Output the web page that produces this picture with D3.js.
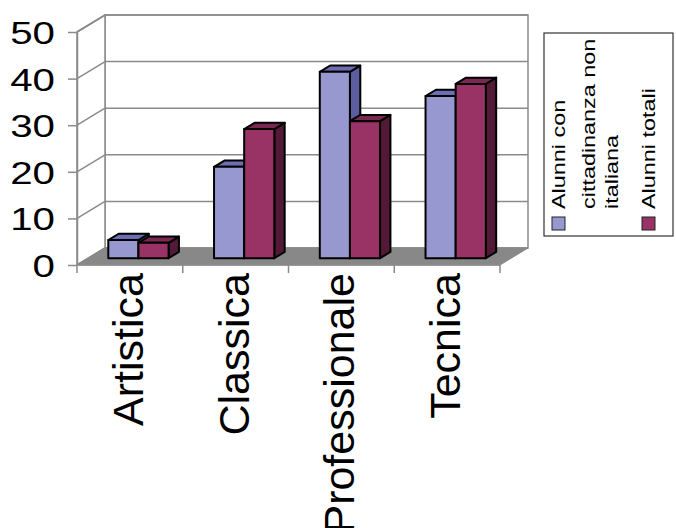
<!DOCTYPE html>
<html>
<head>
<meta charset="utf-8">
<script src="https://cdn.jsdelivr.net/npm/d3@7"></script>
<style>
  html, body { margin: 0; padding: 0; background: #fff; }
  svg { display: block; font-family: "Liberation Sans", Arial, sans-serif; }
</style>
</head>
<body>
<svg id="chart" width="676" height="528"></svg>
<script>
// Indirizzi di studio
const categories = ["Artistica", "Classica", "Professionale", "Tecnica"];
// Percentuali per serie
const alunniStranieri = [3.9, 19.6, 40.0, 34.8];
const alunniTotali = [3.3, 27.7, 29.4, 37.4];
const seriesKeys = ["stranieri", "totali"];
const seriesLegend = [["Alunni con", "cittadinanza non", "italiana"], ["Alunni totali"]];
const yTicks = [0, 10, 20, 30, 40, 50];

const svg = d3.select("#chart");

// 3D box: front plane, and the offset to the back wall
const depth = { dx: 28, dy: -17 };
const barFront = 0.4, barBack = 0.77;   // bar slab inside the depth

const x = d3.scaleBand().domain(categories).range([77, 500]).padding(0);
const y = d3.scaleLinear().domain([0, 50]).range([265, 32]);
const bw = x.bandwidth();
const xs = d3.scaleBand().domain(seriesKeys).range([0.19 * bw, 0.76 * bw]).padding(0);

const fills = {
  stranieri: { front: "#9898d0", top: "#6d6db4", side: "#5c5c9e" },
  totali:    { front: "#993366", top: "#7a2852", side: "#521a36" }
};
const gridColor = "#8a8a8a";

const [xL, xR] = x.range();
const yB = y(0), yT = y(50);
const back = (px, py) => [px + depth.dx, py + depth.dy];

// Walls
svg.append("polygon")
  .attr("points", [[xL + depth.dx, yT + depth.dy], [xR + depth.dx, yT + depth.dy],
                   [xR + depth.dx, yB + depth.dy], [xL + depth.dx, yB + depth.dy]].join(" "))
  .attr("fill", "#fff").attr("stroke", gridColor).attr("stroke-width", 1.5);
svg.append("polygon")
  .attr("points", [[xL, yT], back(xL, yT), back(xL, yB), [xL, yB]].join(" "))
  .attr("fill", "#fff").attr("stroke", gridColor).attr("stroke-width", 1.5);

// Gridlines on back wall and left wall
yTicks.forEach(t => {
  const [bx, by] = back(xL, y(t));
  svg.append("line").attr("x1", bx).attr("y1", by).attr("x2", xR + depth.dx).attr("y2", by)
    .attr("stroke", gridColor).attr("stroke-width", 1.5);
  svg.append("line").attr("x1", xL).attr("y1", y(t)).attr("x2", bx).attr("y2", by)
    .attr("stroke", gridColor).attr("stroke-width", 1.5);
});

// Floor
svg.append("polygon")
  .attr("points", [[xL, yB], [xR, yB], back(xR, yB), back(xL, yB)].join(" "))
  .attr("fill", "#888888").attr("stroke", gridColor).attr("stroke-width", 1);

// Y axis with ticks and labels
const yAxis = svg.append("g").attr("transform", `translate(${xL},0)`)
  .call(d3.axisLeft(y).tickValues(yTicks).tickSize(9).tickSizeOuter(0));
yAxis.select(".domain").attr("stroke", gridColor).attr("stroke-width", 1.5);
yAxis.selectAll(".tick line").attr("stroke", gridColor).attr("stroke-width", 1.5);
yAxis.selectAll(".tick text")
  .attr("x", 0).attr("dy", "0.36em")
  .attr("transform", "translate(-22,0) scale(1.26,1)")
  .attr("font-size", 32).attr("fill", "#000")
  .attr("font-family", "Liberation Sans, Arial, sans-serif");

// Category axis
svg.append("line").attr("x1", xL).attr("y1", yB).attr("x2", xR).attr("y2", yB)
  .attr("stroke", gridColor).attr("stroke-width", 1.5);
const bounds = categories.map(c => x(c)).concat([xR]);
svg.selectAll(".xtick").data(bounds).join("line")
  .attr("x1", d => d).attr("x2", d => d).attr("y1", yB).attr("y2", yB + 8)
  .attr("stroke", gridColor).attr("stroke-width", 1.5);

// Bars (3D slabs)
const rows = categories.map((c, i) => ({ c, stranieri: alunniStranieri[i], totali: alunniTotali[i] }));
const fdx = depth.dx * barFront, fdy = depth.dy * barFront;
const ddx = depth.dx * (barBack - barFront), ddy = depth.dy * (barBack - barFront);

rows.forEach(r => {
  seriesKeys.forEach(k => {
    const bx0 = x(r.c) + xs(k) + fdx;
    const bx1 = bx0 + xs.bandwidth();
    const by0 = y(0) + fdy;
    const by1 = y(r[k]) + fdy;
    const g = svg.append("g").attr("stroke", "#000").attr("stroke-width", 2).attr("stroke-linejoin", "round");
    g.append("polygon")
      .attr("points", [[bx1, by1], [bx1 + ddx, by1 + ddy], [bx1 + ddx, by0 + ddy], [bx1, by0]].join(" "))
      .attr("fill", fills[k].side);
    g.append("polygon")
      .attr("points", [[bx0, by1], [bx1, by1], [bx1 + ddx, by1 + ddy], [bx0 + ddx, by1 + ddy]].join(" "))
      .attr("fill", fills[k].top);
    g.append("rect")
      .attr("x", bx0).attr("y", by1).attr("width", bx1 - bx0).attr("height", by0 - by1)
      .attr("fill", fills[k].front);
  });
});

// Category labels, rotated
svg.selectAll(".xlabel").data(categories).join("text")
  .attr("transform", d => `translate(${x(d) + bw / 2},273) rotate(-90)`)
  .attr("text-anchor", "end")
  .attr("dy", "0.3em")
  .attr("font-size", 43)
  .attr("fill", "#000")
  .text(d => d);

// Legend
const legend = svg.append("g");
legend.append("rect").attr("x", 544).attr("y", 33).attr("width", 129).attr("height", 203)
  .attr("fill", "#fff").attr("stroke", "#333").attr("stroke-width", 1.2);
const lineBaselines = [[565, 595, 618], [655]];
seriesKeys.forEach((k, i) => {
  const base = lineBaselines[i];
  legend.append("rect")
    .attr("x", base[0] - 13).attr("y", 217).attr("width", 13).attr("height", 13)
    .attr("fill", fills[k].front).attr("stroke", "#222").attr("stroke-width", 1);
  seriesLegend[i].forEach((line, j) => {
    legend.append("text")
      .attr("transform", `translate(${base[j]},209) rotate(-90) scale(1.3,1)`)
      .attr("font-size", 18)
      .attr("fill", "#000")
      .text(line);
  });
});
</script>
</body>
</html>
